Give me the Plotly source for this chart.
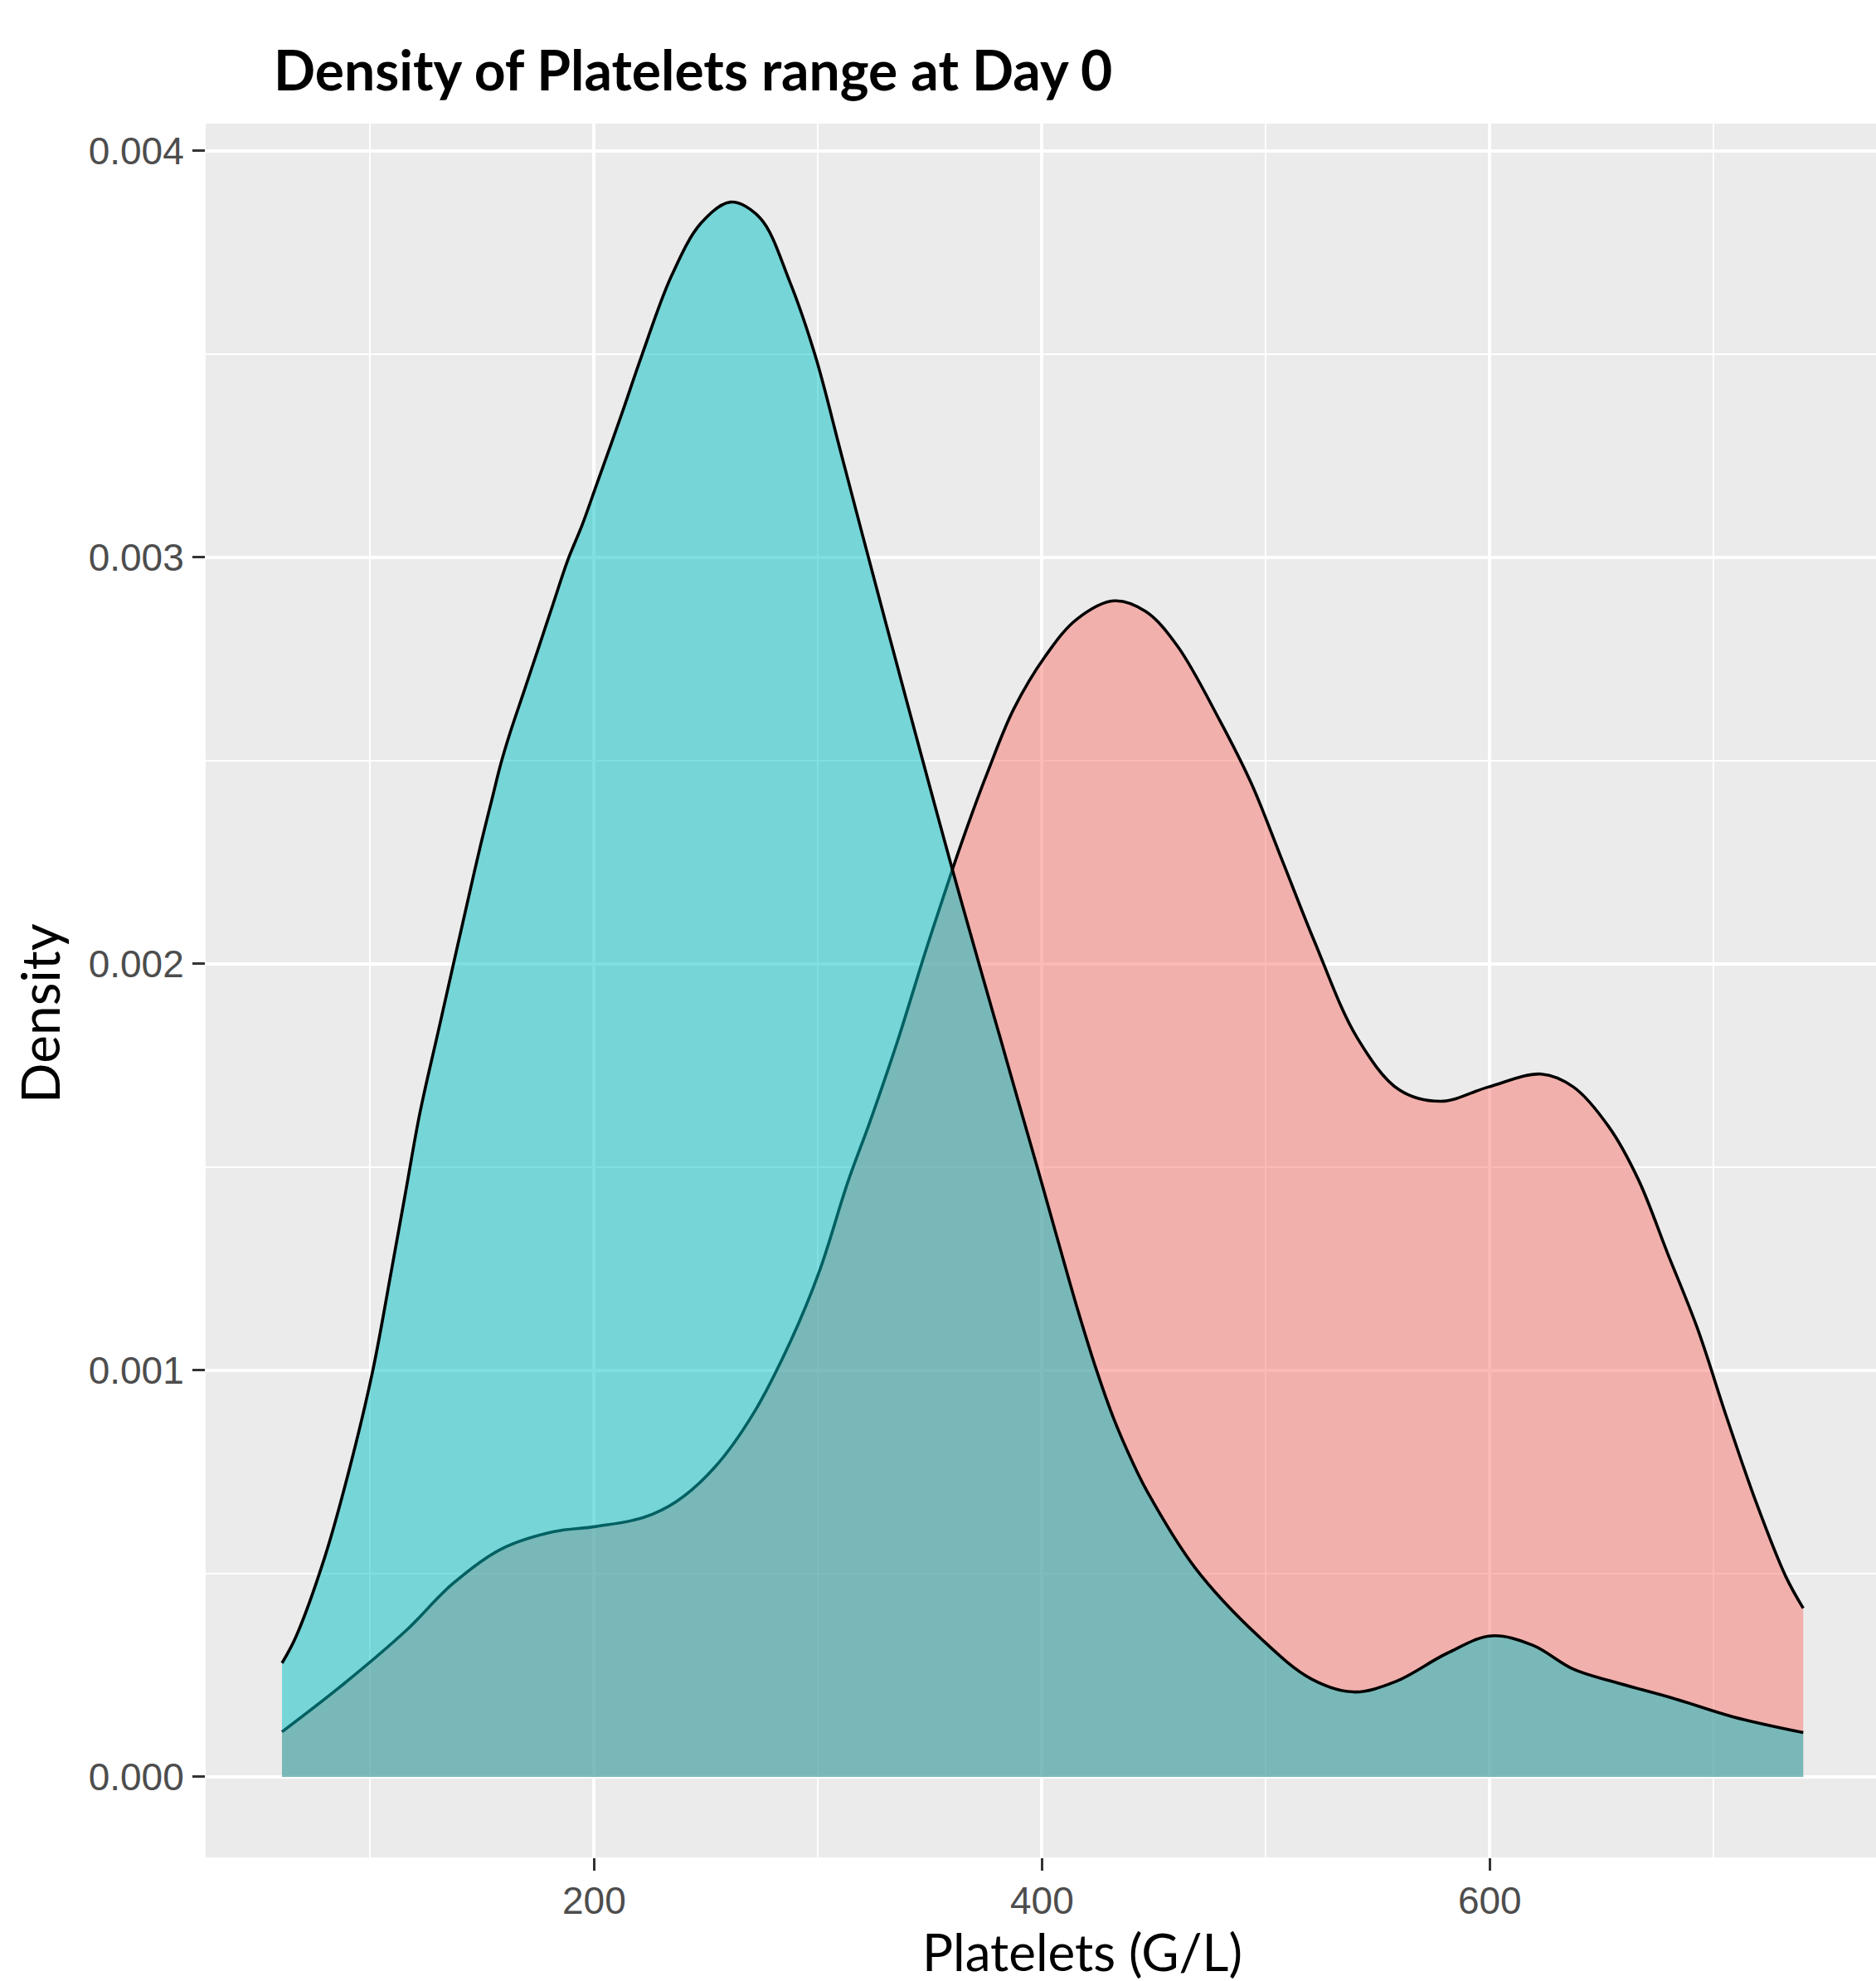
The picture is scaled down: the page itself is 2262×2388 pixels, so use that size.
import plotly.graph_objects as go

# Platelet values (G/L) and estimated density, group A (red / salmon)
red_x = [60.6, 88.2, 115.8, 137, 158.3, 181.6, 200.8, 222, 236.9, 253.9, 270.9, 287.9,
         300.6, 313.4, 323.2, 335.5, 347.9, 360.0, 368.5, 375.6, 387.3, 401.5, 415.6,
         432.2, 446.3, 460.5, 479.3, 493.5, 507.7, 521.8, 540.7, 559.6, 578.3, 599.3,
         623, 637.4, 653.2, 666.4, 679.5, 692.7, 705.9, 719, 732.2, 740]
red_y = [0.000111, 0.000229, 0.000359, 0.000476, 0.000560, 0.000603, 0.000616, 0.000638,
         0.000678, 0.000762, 0.000892, 0.001074, 0.001244, 0.001465, 0.001612, 0.001810,
         0.002029, 0.002232, 0.002366, 0.002470, 0.002626, 0.002757, 0.002848, 0.002893,
         0.002867, 0.002782, 0.002600, 0.002444, 0.002249, 0.002054, 0.001819, 0.001690,
         0.001662, 0.001697, 0.001729, 0.001697, 0.001599, 0.001469, 0.001287, 0.001104,
         0.000883, 0.000675, 0.000493, 0.000415]

# group B (cyan)
cyan_x = [60.6, 66.9, 79.7, 90.3, 101, 109.4, 115.8, 122.2, 130.7, 146.6, 150.5, 154.4,
          158.3, 162.2, 168.7, 175.2, 181.7, 188.2, 194.6, 201.1, 212.2, 221.3, 234.5,
          247.7, 260.9, 274.1, 287.3, 298.7, 310, 320, 330, 340, 350, 360, 372.4, 381.2,
          389.8, 398.5, 407.1, 415.7, 424.4, 431.8, 440.4, 447.2, 468.3, 496.7, 520.3,
          539.2, 558.1, 580.9, 600.7, 619.1, 637.4, 655.9, 682.2, 708.5, 740]
cyan_y = [0.000280, 0.000346, 0.000541, 0.000749, 0.000996, 0.001244, 0.001439, 0.001634,
          0.001842, 0.002229, 0.002320, 0.002406, 0.002492, 0.002564, 0.002671, 0.002778,
          0.002886, 0.002993, 0.003079, 0.003179, 0.003351, 0.003497, 0.003692, 0.003822,
          0.003874, 0.003835, 0.003679, 0.003497, 0.003262, 0.003052, 0.002844, 0.002638,
          0.002434, 0.002232, 0.001990, 0.001821, 0.001655, 0.001488, 0.001320, 0.001154,
          0.001000, 0.000885, 0.000775, 0.000700, 0.000515, 0.000346, 0.000241, 0.000209,
          0.000235, 0.000304, 0.000347, 0.000324, 0.000265, 0.000233, 0.000193, 0.000148,
          0.000109]

x_ticks = [200, 400, 600]
x_minor = [100, 300, 500, 700]
y_ticks = [0.000, 0.001, 0.002, 0.003, 0.004]
y_minor = [0.0005, 0.0015, 0.0025, 0.0035]
y_tick_labels = ["0.000", "0.001", "0.002", "0.003", "0.004"]

fig = go.Figure()
fig.add_trace(go.Scatter(
    x=red_x, y=red_y, mode="lines", fill="tozeroy",
    fillcolor="rgba(248,118,109,0.5)",
    line=dict(color="black", width=3.6, shape="spline", smoothing=1.0),
    hoverinfo="skip", showlegend=False))
fig.add_trace(go.Scatter(
    x=cyan_x, y=cyan_y, mode="lines", fill="tozeroy",
    fillcolor="rgba(0,191,196,0.5)",
    line=dict(color="black", width=3.6, shape="spline", smoothing=1.0),
    hoverinfo="skip", showlegend=False))

W, H = 2262, 2388
L, R, T, B = 248, 0, 149, 149
PW, PH = W - L - R, H - T - B

fig.update_layout(
    width=W, height=H,
    margin=dict(l=L, r=R, t=T, b=B, autoexpand=False),
    paper_bgcolor="white", plot_bgcolor="#EBEBEB",
    title=dict(text="<b>Density of Platelets range at Day 0</b>",
               font=dict(family="Lato", size=66, color="black"),
               x=330 / W, xref="container", xanchor="left",
               y=1 - 86 / H, yref="container", yanchor="middle"),
    xaxis=dict(range=[26.5, 772.5], tickvals=x_ticks, ticktext=[str(v) for v in x_ticks],
               showgrid=True, gridcolor="white", gridwidth=3.5, zeroline=False,
               minor=dict(tickvals=x_minor, showgrid=True,
                          gridcolor="white", gridwidth=1.8, ticks=""),
               ticks="outside", ticklen=15, tickwidth=3, tickcolor="#333333",
               ticklabelstandoff=-3,
               tickfont=dict(family="Liberation Sans", size=46, color="#4D4D4D"),
               automargin=False, showline=False, fixedrange=True),
    yaxis=dict(range=[-0.000198, 0.004067], tickvals=y_ticks, ticktext=y_tick_labels,
               showgrid=True, gridcolor="white", gridwidth=3.5, zeroline=False,
               minor=dict(tickvals=y_minor, showgrid=True,
                          gridcolor="white", gridwidth=1.8, ticks=""),
               ticks="outside", ticklen=15, tickwidth=3, tickcolor="#333333",
               ticklabelstandoff=1,
               tickfont=dict(family="Liberation Sans", size=46, color="#4D4D4D"),
               automargin=False, showline=False, fixedrange=True),
    annotations=[
        dict(text="Platelets (G/L)", xref="paper", yref="paper",
             x=(1305 - L) / PW, y=-(2352 - (T + PH)) / PH,
             xanchor="center", yanchor="middle", showarrow=False,
             font=dict(family="Lato", size=62, color="black")),
        dict(text="Density", xref="paper", yref="paper",
             x=-(L - 47) / PW, y=1 - (1222 - T) / PH, textangle=-90,
             xanchor="center", yanchor="middle", showarrow=False,
             font=dict(family="Lato", size=64, color="black")),
    ],
)

fig.write_html("out.html",
               config={"displayModeBar": False},
               post_script="document.body.style.margin='0px';document.body.style.overflow='hidden';")
